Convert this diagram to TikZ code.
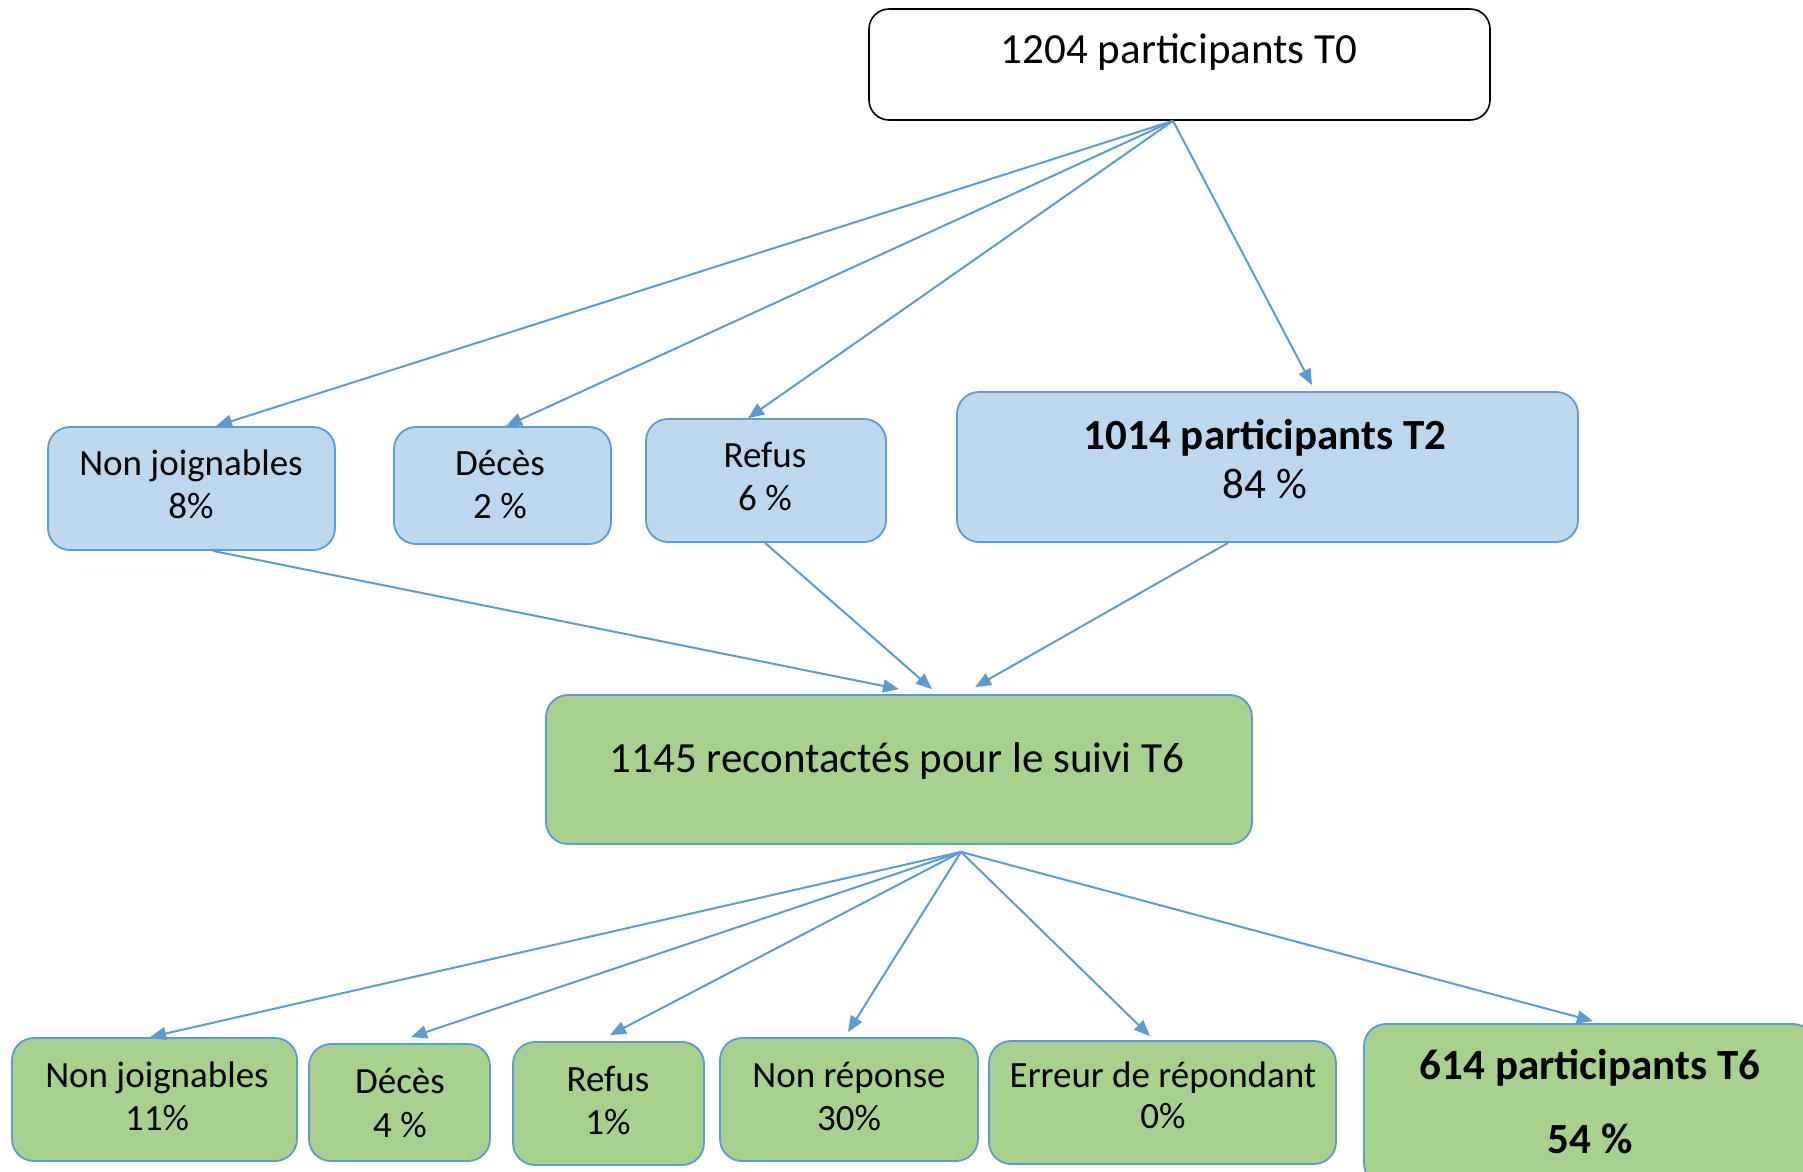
\documentclass[tikz,border=0pt]{standalone}
\usepackage{fontspec}
\setmainfont{Carlito}
\usetikzlibrary{arrows.meta}
\definecolor{bfill}{HTML}{BDD7EE}
\definecolor{gfill}{HTML}{A9D18E}
\definecolor{bline}{HTML}{5B9BD5}
\begin{document}
\begin{tikzpicture}[x=1pt,y=-1pt,
  box/.style={draw=bline,line width=1.8pt,rounded corners=22pt,inner sep=0pt},
  bluebox/.style={box,fill=bfill},
  greenbox/.style={box,fill=gfill},
  topbox/.style={draw=black,line width=1.6pt,rounded corners=20pt,fill=white,inner sep=0pt},
  big/.style={anchor=base,inner sep=0pt,font=\fontsize{43}{50}\selectfont},
  bigb/.style={big,font=\fontsize{43}{50}\selectfont\bfseries},
  small/.style={anchor=base,inner sep=0pt,font=\fontsize{37}{44}\selectfont},
  conn/.style={draw=bline,line width=2pt,-{Triangle[length=16pt,width=13pt]}}]
\useasboundingbox (0,0) rectangle (1803,1171);
\clip (0,0) rectangle (1803,1171);
\fill[white] (0,0) rectangle (1803,1171);
% boxes
\node[topbox,minimum width=621pt,minimum height=111pt] (t0) at (1179.5,64.5) {};
\node[bluebox,minimum width=287pt,minimum height=123pt] (b1) at (191.5,488.5) {};
\node[bluebox,minimum width=217pt,minimum height=117pt] (b2) at (502.5,485.5) {};
\node[bluebox,minimum width=240pt,minimum height=123pt] (b3) at (766,480.5) {};
\node[bluebox,minimum width=621pt,minimum height=150pt] (b4) at (1267.5,467) {};
\node[greenbox,minimum width=706pt,minimum height=149pt] (g0) at (899,769.5) {};
\node[greenbox,minimum width=285pt,minimum height=123pt] (c1) at (154.5,1099.5) {};
\node[greenbox,minimum width=181pt,minimum height=117pt] (c2) at (399.5,1102.5) {};
\node[greenbox,minimum width=191pt,minimum height=123pt] (c3) at (608.5,1103.5) {};
\node[greenbox,minimum width=258pt,minimum height=123pt] (c4) at (849,1099.5) {};
\node[greenbox,minimum width=347pt,minimum height=123pt] (c5) at (1162.5,1102.5) {};
\node[greenbox,minimum width=451pt,minimum height=161pt] (c6) at (1589.5,1104.5) {};
% texts
\node[big] (t0a) at (1179,63) {1204 participants T0};
\node[small] (b1a) at (191,475) {Non joignables};
\node[small] (b1b) at (191,518) {8\%};
\node[small] (b2a) at (500,475) {Décès};
\node[small] (b2b) at (500,518) {2 \%};
\node[small] (b3a) at (765,467) {Refus};
\node[small] (b3b) at (765,510) {6 \%};
\node[bigb] (b4a) at (1265,449) {1014 participants T2};
\node[big] (b4b) at (1265,498) {84 \%};
\node[big] (g0a) at (897,772) {1145 recontactés pour le suivi T6};
\node[small] (c1a) at (157,1087) {Non joignables};
\node[small] (c1b) at (157,1130) {11\%};
\node[small] (c2a) at (400,1093) {Décès};
\node[small] (c2b) at (400,1137) {4 \%};
\node[small] (c3a) at (608,1091) {Refus};
\node[small] (c3b) at (608,1134) {1\%};
\node[small] (c4a) at (849,1087) {Non réponse};
\node[small] (c4b) at (849,1130) {30\%};
\node[small] (c5a) at (1163,1087) {Erreur de répondant};
\node[small] (c5b) at (1163,1128) {0\%};
\node[bigb] (c6a) at (1590,1079) {614 participants T6};
\node[bigb] (c6b) at (1590,1153) {54 \%};
% connectors
\draw[conn] ([xshift=-6.5pt]t0.south) -- ([xshift=24.5pt]b1.north);
\draw[conn] ([xshift=-6.5pt]t0.south) -- ([xshift=3.5pt]b2.north);
\draw[conn] ([xshift=-6.5pt]t0.south) -- ([xshift=-18pt]b3.north);
\draw[conn] ([xshift=-6.5pt]t0.south) -- ([xshift=44.5pt,yshift=6pt]b4.north);
\draw[conn] ([xshift=21.5pt]b1.south) -- ([xshift=0pt,yshift=5pt]g0.north);
\draw[conn] ([xshift=-1pt]b3.south) -- ([xshift=33pt,yshift=5pt]g0.north);
\draw[conn] ([xshift=-39.5pt]b4.south) -- ([xshift=76pt,yshift=7pt]g0.north);
\draw[conn] ([xshift=62pt,yshift=-7pt]g0.south) -- ([xshift=-4.5pt]c1.north);
\draw[conn] ([xshift=62pt,yshift=-7pt]g0.south) -- ([xshift=11.5pt,yshift=6pt]c2.north);
\draw[conn] ([xshift=62pt,yshift=-7pt]g0.south) -- ([xshift=1.5pt,yshift=6pt]c3.north);
\draw[conn] ([xshift=62pt,yshift=-7pt]g0.south) -- ([xshift=-1pt,yshift=5pt]c4.north);
\draw[conn] ([xshift=62pt,yshift=-7pt]g0.south) -- ([xshift=-12.5pt,yshift=4pt]c5.north);
\draw[conn] ([xshift=62pt,yshift=-7pt]g0.south) -- ([xshift=3.5pt,yshift=2pt]c6.north);
\end{tikzpicture}
\end{document}
